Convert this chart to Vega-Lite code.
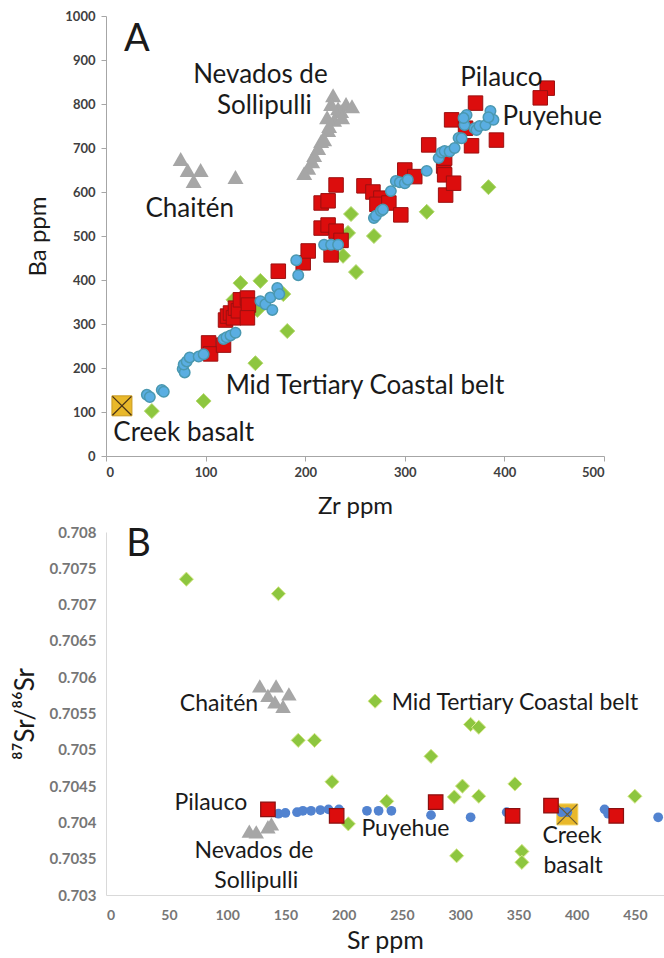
{
  "$schema": "https://vega.github.io/schema/vega-lite/v6.json",
  "padding": {"left": 12, "top": 10, "right": 0, "bottom": 0},
  "background": "white",
  "spacing": 7,
  "config": {
    "view": {"stroke": null},
    "font": "Lato",
    "axis": {"grid": false, "labelFont": "Lato", "titleFont": "Lato", "titleFontWeight": "normal", "titleColor": "#1a1a1a"}
  },
  "datasets": {
    "a": [
      {"group": "Mid Tertiary Coastal belt", "Zr": 46, "Ba": 102},
      {"group": "Mid Tertiary Coastal belt", "Zr": 98, "Ba": 125},
      {"group": "Mid Tertiary Coastal belt", "Zr": 150, "Ba": 211},
      {"group": "Mid Tertiary Coastal belt", "Zr": 182, "Ba": 284},
      {"group": "Mid Tertiary Coastal belt", "Zr": 135, "Ba": 393},
      {"group": "Mid Tertiary Coastal belt", "Zr": 155, "Ba": 398},
      {"group": "Mid Tertiary Coastal belt", "Zr": 128, "Ba": 355},
      {"group": "Mid Tertiary Coastal belt", "Zr": 152, "Ba": 332},
      {"group": "Mid Tertiary Coastal belt", "Zr": 178, "Ba": 368},
      {"group": "Mid Tertiary Coastal belt", "Zr": 246, "Ba": 550},
      {"group": "Mid Tertiary Coastal belt", "Zr": 243, "Ba": 507},
      {"group": "Mid Tertiary Coastal belt", "Zr": 238, "Ba": 455},
      {"group": "Mid Tertiary Coastal belt", "Zr": 251, "Ba": 418},
      {"group": "Mid Tertiary Coastal belt", "Zr": 269, "Ba": 500},
      {"group": "Mid Tertiary Coastal belt", "Zr": 322, "Ba": 555},
      {"group": "Mid Tertiary Coastal belt", "Zr": 384, "Ba": 611},
      {"group": "Pilauco", "Zr": 103, "Ba": 257},
      {"group": "Pilauco", "Zr": 105, "Ba": 232},
      {"group": "Pilauco", "Zr": 118, "Ba": 252},
      {"group": "Pilauco", "Zr": 120, "Ba": 309},
      {"group": "Pilauco", "Zr": 122, "Ba": 318},
      {"group": "Pilauco", "Zr": 125, "Ba": 325},
      {"group": "Pilauco", "Zr": 128, "Ba": 314},
      {"group": "Pilauco", "Zr": 130, "Ba": 336},
      {"group": "Pilauco", "Zr": 133, "Ba": 330},
      {"group": "Pilauco", "Zr": 135, "Ba": 355},
      {"group": "Pilauco", "Zr": 142, "Ba": 359},
      {"group": "Pilauco", "Zr": 143, "Ba": 343},
      {"group": "Pilauco", "Zr": 142, "Ba": 314},
      {"group": "Pilauco", "Zr": 173, "Ba": 420},
      {"group": "Pilauco", "Zr": 198, "Ba": 439},
      {"group": "Pilauco", "Zr": 203, "Ba": 466},
      {"group": "Pilauco", "Zr": 216, "Ba": 518},
      {"group": "Pilauco", "Zr": 223, "Ba": 525},
      {"group": "Pilauco", "Zr": 231, "Ba": 511},
      {"group": "Pilauco", "Zr": 226, "Ba": 457},
      {"group": "Pilauco", "Zr": 236, "Ba": 490},
      {"group": "Pilauco", "Zr": 216, "Ba": 575},
      {"group": "Pilauco", "Zr": 223, "Ba": 580},
      {"group": "Pilauco", "Zr": 231, "Ba": 616},
      {"group": "Pilauco", "Zr": 259, "Ba": 614},
      {"group": "Pilauco", "Zr": 268, "Ba": 600},
      {"group": "Pilauco", "Zr": 276, "Ba": 586},
      {"group": "Pilauco", "Zr": 272, "Ba": 572},
      {"group": "Pilauco", "Zr": 284, "Ba": 575},
      {"group": "Pilauco", "Zr": 296, "Ba": 548},
      {"group": "Pilauco", "Zr": 300, "Ba": 650},
      {"group": "Pilauco", "Zr": 310, "Ba": 635},
      {"group": "Pilauco", "Zr": 324, "Ba": 707},
      {"group": "Pilauco", "Zr": 339, "Ba": 659},
      {"group": "Pilauco", "Zr": 340, "Ba": 677},
      {"group": "Pilauco", "Zr": 340, "Ba": 639},
      {"group": "Pilauco", "Zr": 341, "Ba": 593},
      {"group": "Pilauco", "Zr": 349, "Ba": 620},
      {"group": "Pilauco", "Zr": 347, "Ba": 764},
      {"group": "Pilauco", "Zr": 361, "Ba": 745},
      {"group": "Pilauco", "Zr": 367, "Ba": 705},
      {"group": "Pilauco", "Zr": 371, "Ba": 802},
      {"group": "Pilauco", "Zr": 392, "Ba": 718},
      {"group": "Pilauco", "Zr": 443, "Ba": 836},
      {"group": "Pilauco", "Zr": 436, "Ba": 814},
      {"group": "Puyehue", "Zr": 41, "Ba": 139},
      {"group": "Puyehue", "Zr": 44, "Ba": 134},
      {"group": "Puyehue", "Zr": 56, "Ba": 150},
      {"group": "Puyehue", "Zr": 58, "Ba": 146},
      {"group": "Puyehue", "Zr": 77, "Ba": 198},
      {"group": "Puyehue", "Zr": 79, "Ba": 190},
      {"group": "Puyehue", "Zr": 78, "Ba": 208},
      {"group": "Puyehue", "Zr": 81, "Ba": 215},
      {"group": "Puyehue", "Zr": 84, "Ba": 224},
      {"group": "Puyehue", "Zr": 93, "Ba": 226},
      {"group": "Puyehue", "Zr": 98, "Ba": 231},
      {"group": "Puyehue", "Zr": 118, "Ba": 266},
      {"group": "Puyehue", "Zr": 121, "Ba": 270},
      {"group": "Puyehue", "Zr": 125, "Ba": 274},
      {"group": "Puyehue", "Zr": 130, "Ba": 280},
      {"group": "Puyehue", "Zr": 155, "Ba": 352},
      {"group": "Puyehue", "Zr": 160, "Ba": 345},
      {"group": "Puyehue", "Zr": 165, "Ba": 360},
      {"group": "Puyehue", "Zr": 167, "Ba": 332},
      {"group": "Puyehue", "Zr": 172, "Ba": 382},
      {"group": "Puyehue", "Zr": 174, "Ba": 368},
      {"group": "Puyehue", "Zr": 193, "Ba": 411},
      {"group": "Puyehue", "Zr": 191, "Ba": 445},
      {"group": "Puyehue", "Zr": 219, "Ba": 480},
      {"group": "Puyehue", "Zr": 226, "Ba": 480},
      {"group": "Puyehue", "Zr": 233, "Ba": 480},
      {"group": "Puyehue", "Zr": 269, "Ba": 541},
      {"group": "Puyehue", "Zr": 271, "Ba": 546},
      {"group": "Puyehue", "Zr": 276, "Ba": 557},
      {"group": "Puyehue", "Zr": 278, "Ba": 560},
      {"group": "Puyehue", "Zr": 286, "Ba": 602},
      {"group": "Puyehue", "Zr": 291, "Ba": 625},
      {"group": "Puyehue", "Zr": 295, "Ba": 622},
      {"group": "Puyehue", "Zr": 300, "Ba": 620},
      {"group": "Puyehue", "Zr": 303, "Ba": 628},
      {"group": "Puyehue", "Zr": 322, "Ba": 648},
      {"group": "Puyehue", "Zr": 334, "Ba": 677},
      {"group": "Puyehue", "Zr": 337, "Ba": 690},
      {"group": "Puyehue", "Zr": 340, "Ba": 693},
      {"group": "Puyehue", "Zr": 345, "Ba": 692},
      {"group": "Puyehue", "Zr": 350, "Ba": 700},
      {"group": "Puyehue", "Zr": 354, "Ba": 723},
      {"group": "Puyehue", "Zr": 357, "Ba": 722},
      {"group": "Puyehue", "Zr": 360, "Ba": 752},
      {"group": "Puyehue", "Zr": 362, "Ba": 775},
      {"group": "Puyehue", "Zr": 359, "Ba": 768},
      {"group": "Puyehue", "Zr": 370, "Ba": 745},
      {"group": "Puyehue", "Zr": 372, "Ba": 741},
      {"group": "Puyehue", "Zr": 375, "Ba": 750},
      {"group": "Puyehue", "Zr": 381, "Ba": 752},
      {"group": "Puyehue", "Zr": 386, "Ba": 784},
      {"group": "Puyehue", "Zr": 389, "Ba": 764},
      {"group": "Puyehue", "Zr": 384, "Ba": 770},
      {"group": "Chaitén", "Zr": 75, "Ba": 675},
      {"group": "Chaitén", "Zr": 82, "Ba": 650},
      {"group": "Chaitén", "Zr": 88, "Ba": 625},
      {"group": "Chaitén", "Zr": 95, "Ba": 650},
      {"group": "Chaitén", "Zr": 130, "Ba": 634},
      {"group": "Nevados de Sollipulli", "Zr": 228, "Ba": 820},
      {"group": "Nevados de Sollipulli", "Zr": 241, "Ba": 800},
      {"group": "Nevados de Sollipulli", "Zr": 236, "Ba": 784},
      {"group": "Nevados de Sollipulli", "Zr": 229, "Ba": 764},
      {"group": "Nevados de Sollipulli", "Zr": 223, "Ba": 741},
      {"group": "Nevados de Sollipulli", "Zr": 216, "Ba": 716},
      {"group": "Nevados de Sollipulli", "Zr": 209, "Ba": 684},
      {"group": "Nevados de Sollipulli", "Zr": 203, "Ba": 655},
      {"group": "Nevados de Sollipulli", "Zr": 199, "Ba": 643},
      {"group": "Nevados de Sollipulli", "Zr": 213, "Ba": 700},
      {"group": "Nevados de Sollipulli", "Zr": 219, "Ba": 720},
      {"group": "Nevados de Sollipulli", "Zr": 224, "Ba": 750},
      {"group": "Nevados de Sollipulli", "Zr": 233, "Ba": 790},
      {"group": "Nevados de Sollipulli", "Zr": 226, "Ba": 800},
      {"group": "Nevados de Sollipulli", "Zr": 207, "Ba": 670},
      {"group": "Nevados de Sollipulli", "Zr": 237, "Ba": 770},
      {"group": "Nevados de Sollipulli", "Zr": 247, "Ba": 795},
      {"group": "Nevados de Sollipulli", "Zr": 222, "Ba": 770},
      {"group": "Creek basalt", "Zr": 16, "Ba": 114}
    ],
    "aLabels": [
      {"kind": "panel", "label": "A", "Zr": 31, "Ba": 945},
      {"kind": "series", "label": "Nevados de", "Zr": 155, "Ba": 866},
      {"kind": "series", "label": "Sollipulli", "Zr": 159, "Ba": 795},
      {"kind": "series", "label": "Chaitén", "Zr": 84, "Ba": 561},
      {"kind": "series", "label": "Pilauco", "Zr": 397, "Ba": 859},
      {"kind": "series", "label": "Puyehue", "Zr": 448, "Ba": 770},
      {"kind": "series", "label": "Mid Tertiary Coastal belt", "Zr": 260, "Ba": 159},
      {"kind": "series", "label": "Creek basalt", "Zr": 78, "Ba": 52}
    ],
    "b": [
      {"group": "Mid Tertiary Coastal belt", "Sr": 65, "ratio": 0.70735},
      {"group": "Mid Tertiary Coastal belt", "Sr": 144, "ratio": 0.70715},
      {"group": "Mid Tertiary Coastal belt", "Sr": 227, "ratio": 0.70567},
      {"group": "Mid Tertiary Coastal belt", "Sr": 161, "ratio": 0.70513},
      {"group": "Mid Tertiary Coastal belt", "Sr": 175, "ratio": 0.70513},
      {"group": "Mid Tertiary Coastal belt", "Sr": 190, "ratio": 0.70456},
      {"group": "Mid Tertiary Coastal belt", "Sr": 204, "ratio": 0.70398},
      {"group": "Mid Tertiary Coastal belt", "Sr": 237, "ratio": 0.70429},
      {"group": "Mid Tertiary Coastal belt", "Sr": 275, "ratio": 0.70491},
      {"group": "Mid Tertiary Coastal belt", "Sr": 295, "ratio": 0.70435},
      {"group": "Mid Tertiary Coastal belt", "Sr": 302, "ratio": 0.7045},
      {"group": "Mid Tertiary Coastal belt", "Sr": 316, "ratio": 0.70436},
      {"group": "Mid Tertiary Coastal belt", "Sr": 297, "ratio": 0.70354},
      {"group": "Mid Tertiary Coastal belt", "Sr": 347, "ratio": 0.70453},
      {"group": "Mid Tertiary Coastal belt", "Sr": 353, "ratio": 0.7036},
      {"group": "Mid Tertiary Coastal belt", "Sr": 353, "ratio": 0.70345},
      {"group": "Mid Tertiary Coastal belt", "Sr": 450, "ratio": 0.70436},
      {"group": "Mid Tertiary Coastal belt", "Sr": 309, "ratio": 0.70535},
      {"group": "Mid Tertiary Coastal belt", "Sr": 316, "ratio": 0.70531},
      {"group": "Chaitén", "Sr": 128, "ratio": 0.70588},
      {"group": "Chaitén", "Sr": 142, "ratio": 0.70588},
      {"group": "Chaitén", "Sr": 153, "ratio": 0.70577},
      {"group": "Chaitén", "Sr": 141, "ratio": 0.70566},
      {"group": "Chaitén", "Sr": 148, "ratio": 0.7056},
      {"group": "Chaitén", "Sr": 135, "ratio": 0.70575},
      {"group": "Nevados de Sollipulli", "Sr": 119, "ratio": 0.70388},
      {"group": "Nevados de Sollipulli", "Sr": 125, "ratio": 0.70387},
      {"group": "Nevados de Sollipulli", "Sr": 135, "ratio": 0.70394},
      {"group": "Nevados de Sollipulli", "Sr": 138, "ratio": 0.70398},
      {"group": "Creek basalt", "Sr": 392, "ratio": 0.70411},
      {"group": "Puyehue", "Sr": 144, "ratio": 0.70412},
      {"group": "Puyehue", "Sr": 150, "ratio": 0.70413},
      {"group": "Puyehue", "Sr": 160, "ratio": 0.70414},
      {"group": "Puyehue", "Sr": 165, "ratio": 0.70416},
      {"group": "Puyehue", "Sr": 172, "ratio": 0.70416},
      {"group": "Puyehue", "Sr": 180, "ratio": 0.70417},
      {"group": "Puyehue", "Sr": 187, "ratio": 0.70418},
      {"group": "Puyehue", "Sr": 196, "ratio": 0.70418},
      {"group": "Puyehue", "Sr": 220, "ratio": 0.70416},
      {"group": "Puyehue", "Sr": 230, "ratio": 0.70416},
      {"group": "Puyehue", "Sr": 241, "ratio": 0.70416},
      {"group": "Puyehue", "Sr": 275, "ratio": 0.7041},
      {"group": "Puyehue", "Sr": 309, "ratio": 0.70407},
      {"group": "Puyehue", "Sr": 340, "ratio": 0.70414},
      {"group": "Puyehue", "Sr": 387, "ratio": 0.70414},
      {"group": "Puyehue", "Sr": 392, "ratio": 0.70414},
      {"group": "Puyehue", "Sr": 424, "ratio": 0.70418},
      {"group": "Puyehue", "Sr": 427, "ratio": 0.70412},
      {"group": "Puyehue", "Sr": 470, "ratio": 0.70407},
      {"group": "Pilauco", "Sr": 135, "ratio": 0.70418},
      {"group": "Pilauco", "Sr": 194, "ratio": 0.70409},
      {"group": "Pilauco", "Sr": 279, "ratio": 0.70428},
      {"group": "Pilauco", "Sr": 345, "ratio": 0.70409},
      {"group": "Pilauco", "Sr": 378, "ratio": 0.70423},
      {"group": "Pilauco", "Sr": 434, "ratio": 0.70409}
    ],
    "bLabels": [
      {"kind": "panel", "label": "B", "Sr": 24, "ratio": 0.70782},
      {"kind": "series", "label": "Chaitén", "Sr": 93, "ratio": 0.70563},
      {"kind": "series", "label": "Mid Tertiary Coastal belt", "Sr": 347, "ratio": 0.70564},
      {"kind": "series", "label": "Pilauco", "Sr": 86, "ratio": 0.70427},
      {"kind": "series", "label": "Nevados de", "Sr": 123, "ratio": 0.70361},
      {"kind": "series", "label": "Sollipulli", "Sr": 125, "ratio": 0.70319},
      {"kind": "series", "label": "Puyehue", "Sr": 253, "ratio": 0.70391},
      {"kind": "series", "label": "Creek", "Sr": 396, "ratio": 0.70381},
      {"kind": "series", "label": "basalt", "Sr": 397, "ratio": 0.7034}
    ]
  },
  "vconcat": [
    {
      "width": 498,
      "height": 440,
      "data": {"name": "a"},
      "encoding": {
        "x": {"field": "Zr", "type": "quantitative", "title": "Zr ppm",
              "scale": {"domain": [0, 500], "nice": false, "zero": false},
              "axis": {"values": [0, 100, 200, 300, 400, 500], "format": "d", "domainColor": "#a6a6a6", "tickColor": "#a6a6a6", "tickSize": 5, "labelFontSize": 13, "labelFontWeight": "bold", "labelColor": "#404040", "labelPadding": 5, "titleFontSize": 24, "titlePadding": 15}},
        "y": {"field": "Ba", "type": "quantitative", "title": "Ba ppm",
              "scale": {"domain": [0, 1000], "nice": false},
              "axis": {"values": [0, 100, 200, 300, 400, 500, 600, 700, 800, 900, 1000], "format": "d", "domainColor": "#a6a6a6", "tickColor": "#a6a6a6", "tickSize": 5, "labelFontSize": 13, "labelFontWeight": "bold", "labelColor": "#404040", "labelPadding": 6, "titleFontSize": 24, "titlePadding": 14}}
      },
      "layer": [
        {"transform": [{"filter": "datum.group === 'Mid Tertiary Coastal belt'"}],
         "mark": {"type": "point", "shape": "diamond", "filled": true, "fill": "#8dc63f", "stroke": "#b5d96f", "strokeWidth": 1, "size": 225, "opacity": 1}},
        {"transform": [{"filter": "datum.group === 'Pilauco'"}],
         "mark": {"type": "point", "shape": "square", "filled": true, "fill": "#dc0d0d", "stroke": "#9c1010", "strokeWidth": 1, "size": 210, "opacity": 1}},
        {"transform": [{"filter": "datum.group === 'Puyehue'"}],
         "mark": {"type": "point", "shape": "circle", "filled": true, "fill": "#5aaee2", "stroke": "#4a98b0", "strokeWidth": 1.5, "size": 110, "opacity": 1}},
        {"transform": [{"filter": "datum.group === 'Chaitén' || datum.group === 'Nevados de Sollipulli'"}],
         "mark": {"type": "point", "shape": "triangle-up", "filled": true, "fill": "#a6a6a6", "size": 256, "opacity": 1}},
        {"transform": [{"filter": "datum.group === 'Creek basalt'"}],
         "mark": {"type": "point", "shape": "square", "filled": true, "fill": "#e9b82a", "stroke": "#c99a22", "strokeWidth": 1, "size": 400, "opacity": 1}},
        {"transform": [{"filter": "datum.group === 'Creek basalt'"}],
         "mark": {"type": "point", "shape": "M-1,-1L1,1M1,-1L-1,1", "filled": false, "stroke": "#4a3418", "strokeWidth": 1.3, "size": 360, "opacity": 1}},
        {"data": {"name": "aLabels"}, "transform": [{"filter": "datum.kind === 'series'"}],
         "mark": {"type": "text", "font": "Lato", "fontSize": 26, "color": "#1a1a1a", "align": "center", "baseline": "middle"},
         "encoding": {"text": {"field": "label"}}},
        {"data": {"name": "aLabels"}, "transform": [{"filter": "datum.kind === 'panel'"}],
         "mark": {"type": "text", "font": "Lato", "fontSize": 38, "color": "#1a1a1a", "align": "center", "baseline": "middle"},
         "encoding": {"text": {"field": "label"}}}
      ]
    },
    {
      "width": 558,
      "height": 363,
      "data": {"name": "b"},
      "encoding": {
        "x": {"field": "Sr", "type": "quantitative", "title": "Sr ppm",
              "scale": {"domain": [-4, 475], "nice": false, "zero": false},
              "axis": {"values": [0, 50, 100, 150, 200, 250, 300, 350, 400, 450], "domainColor": "#d9d9d9", "ticks": false, "labelFontSize": 14, "labelFontWeight": "bold", "labelColor": "#767676", "labelPadding": 13, "titleFontSize": 25, "titlePadding": 6}},
        "y": {"field": "ratio", "type": "quantitative", "title": "⁸⁷Sr/⁸⁶Sr",
              "scale": {"domain": [0.703, 0.708], "nice": false, "zero": false},
              "axis": {"values": [0.703, 0.7035, 0.704, 0.7045, 0.705, 0.7055, 0.706, 0.7065, 0.707, 0.7075, 0.708], "format": ".4~f", "domainColor": "#d9d9d9", "ticks": false, "labelFontSize": 15, "labelFontWeight": "bold", "labelColor": "#767676", "labelPadding": 10, "titleFontSize": 26, "titlePadding": 10}}
      },
      "layer": [
        {"transform": [{"filter": "datum.group === 'Mid Tertiary Coastal belt'"}],
         "mark": {"type": "point", "shape": "diamond", "filled": true, "fill": "#8dc63f", "stroke": "#d6e88a", "strokeWidth": 1, "size": 200, "opacity": 1}},
        {"transform": [{"filter": "datum.group === 'Chaitén' || datum.group === 'Nevados de Sollipulli'"}],
         "mark": {"type": "point", "shape": "triangle-up", "filled": true, "fill": "#a6a6a6", "size": 240, "opacity": 1}},
        {"transform": [{"filter": "datum.group === 'Creek basalt'"}],
         "mark": {"type": "point", "shape": "square", "filled": true, "fill": "#e9b82a", "stroke": "#f2d25a", "strokeWidth": 1, "size": 440, "opacity": 1}},
        {"transform": [{"filter": "datum.group === 'Puyehue'"}],
         "mark": {"type": "point", "shape": "circle", "filled": true, "fill": "#5283d0", "size": 95, "opacity": 1}},
        {"transform": [{"filter": "datum.group === 'Creek basalt'"}],
         "mark": {"type": "point", "shape": "M-1,-1L1,1M1,-1L-1,1", "filled": false, "stroke": "#6a5a30", "strokeWidth": 1.2, "size": 400, "opacity": 1}},
        {"transform": [{"filter": "datum.group === 'Pilauco'"}],
         "mark": {"type": "point", "shape": "square", "filled": true, "fill": "#dc0d0d", "stroke": "#8a1010", "strokeWidth": 1.2, "size": 210, "opacity": 1}},
        {"data": {"name": "bLabels"}, "transform": [{"filter": "datum.kind === 'series'"}],
         "mark": {"type": "text", "font": "Lato", "fontSize": 23, "color": "#1a1a1a", "align": "center", "baseline": "middle"},
         "encoding": {"text": {"field": "label"}}},
        {"data": {"name": "bLabels"}, "transform": [{"filter": "datum.kind === 'panel'"}],
         "mark": {"type": "text", "font": "Lato", "fontSize": 38, "color": "#1a1a1a", "align": "center", "baseline": "middle"},
         "encoding": {"text": {"field": "label"}}}
      ]
    }
  ]
}
